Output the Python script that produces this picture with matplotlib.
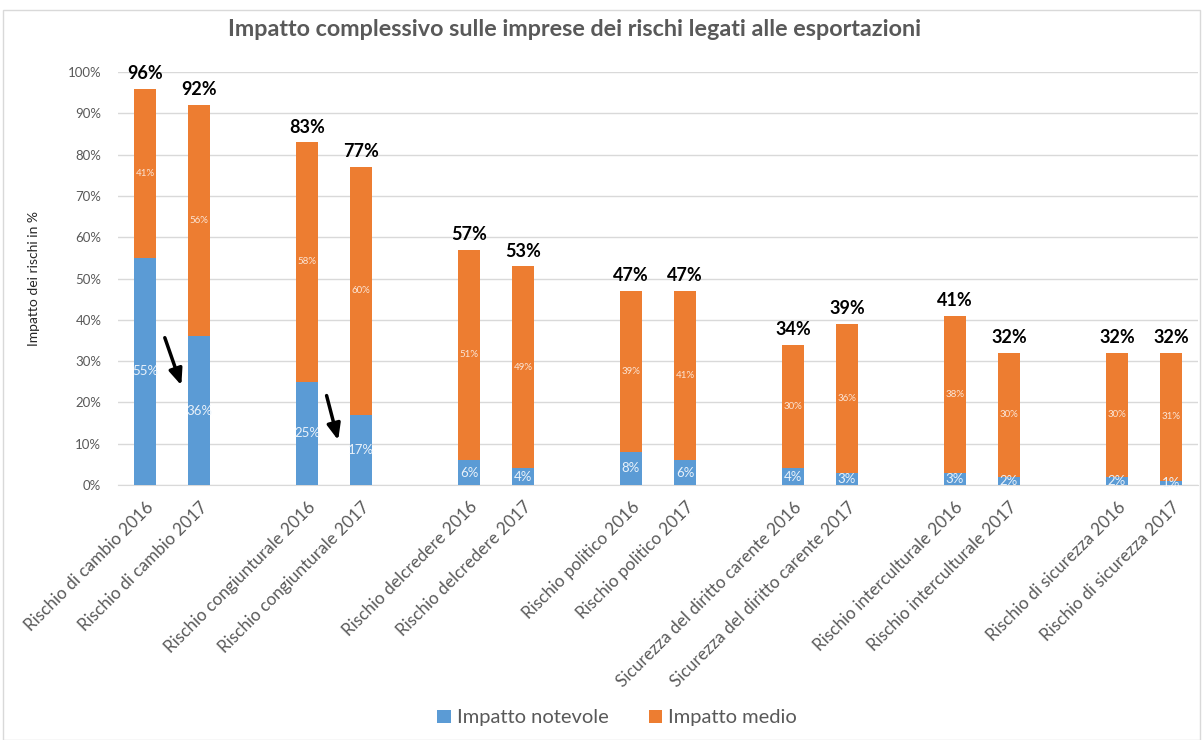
import matplotlib
matplotlib.use("Agg")
import matplotlib.pyplot as plt
from matplotlib.patches import Rectangle
import numpy as np

plt.rcParams['font.family'] = ['Lato', 'DejaVu Sans']

categories = ["Rischio di cambio 2016", "Rischio di cambio 2017",
              "Rischio congiunturale 2016", "Rischio congiunturale 2017",
              "Rischio delcredere 2016", "Rischio delcredere 2017",
              "Rischio politico 2016", "Rischio politico 2017",
              "Sicurezza del diritto carente 2016", "Sicurezza del diritto carente 2017",
              "Rischio interculturale 2016", "Rischio interculturale 2017",
              "Rischio di sicurezza 2016", "Rischio di sicurezza 2017"]
notevole = [55, 36, 25, 17, 6, 4, 8, 6, 4, 3, 3, 2, 2, 1]
medio = [41, 56, 58, 60, 51, 49, 39, 41, 30, 36, 38, 30, 30, 31]
totali = [96, 92, 83, 77, 57, 53, 47, 47, 34, 39, 41, 32, 32, 32]
yticks = [0, 10, 20, 30, 40, 50, 60, 70, 80, 90, 100]

BLUE = "#5B9BD5"
ORANGE = "#ED7D31"
GREY = "#595959"

fig = plt.figure(figsize=(12.03, 7.40), dpi=100)
ax = fig.add_axes([118/1203, 1-485/740, (1198-118)/1203, (485-72)/740])

# positions: pairs separated by an empty slot
pos = []
for i in range(len(categories)):
    pos.append((i // 2) * 3 + (i % 2))
pos = np.array(pos)

w = 0.41
ax.bar(pos, notevole, width=w, color=BLUE, zorder=3, label="Impatto notevole")
ax.bar(pos, medio, width=w, bottom=notevole, color=ORANGE, zorder=3, label="Impatto medio")

for x, n, m, t in zip(pos, notevole, medio, totali):
    ax.text(x, n / 2, f"{n}%", ha='center', va='center', color='#EAF2FA', fontsize=9.5, zorder=4)
    ax.text(x, n + m / 2, f"{m}%", ha='center', va='center', color='#FBE5D6', fontsize=7, zorder=4)
    ax.text(x, n + m + 1.6, f"{t}%", ha='center', va='bottom', color='black', fontsize=13,
            fontweight='bold', zorder=4)

ax.set_xlim(-0.5, pos[-1] + 0.5)
ax.set_ylim(0, 100)
ax.set_yticks(yticks)
ax.set_yticklabels([f"{v}%" for v in yticks], fontsize=9.5, color=GREY)
ax.yaxis.grid(True, color="#D9D9D9", linewidth=1, zorder=0)
ax.set_xticks(pos)
ax.set_xticklabels(categories, rotation=45, ha='right', rotation_mode='anchor', fontsize=12.3, color=GREY)
ax.tick_params(axis='both', length=0)
ax.tick_params(axis='x', pad=10)
ax.tick_params(axis='y', pad=12)
for s in ['top', 'right', 'left']:
    ax.spines[s].set_visible(False)
ax.spines['bottom'].set_color("#D9D9D9")
ax.set_ylabel("Impatto dei rischi in %", fontsize=10, color='#262626', labelpad=20)

# arrows
ax.annotate("", xy=(0.69, 23.5), xytext=(0.35, 36.3),
            arrowprops=dict(arrowstyle='-|>,head_length=0.6,head_width=0.25', color='black',
                            lw=2.5, mutation_scale=16), zorder=5)
ax.annotate("", xy=(3.59, 10.2), xytext=(3.35, 22.3),
            arrowprops=dict(arrowstyle='-|>,head_length=0.6,head_width=0.25', color='black',
                            lw=2.5, mutation_scale=16), zorder=5)

fig.text(575/1203, 1-30/740, "Impatto complessivo sulle imprese dei rischi legati alle esportazioni",
         ha='center', va='center', fontsize=16.8, fontweight='bold', color=GREY)

fig.legend(loc='center', bbox_to_anchor=(617/1203, 1-718/740), ncol=2, frameon=False,
           fontsize=14.5, handlelength=0.65, handleheight=0.65, handletextpad=0.3, columnspacing=2.0,
           labelcolor=GREY)

# chart border
fig.patches.append(Rectangle((3/1203, 0.0), 1197/1203, 1-10/740, transform=fig.transFigure,
                             fill=False, edgecolor="#D9D9D9", linewidth=1))

fig.savefig("out.png", dpi=100)
